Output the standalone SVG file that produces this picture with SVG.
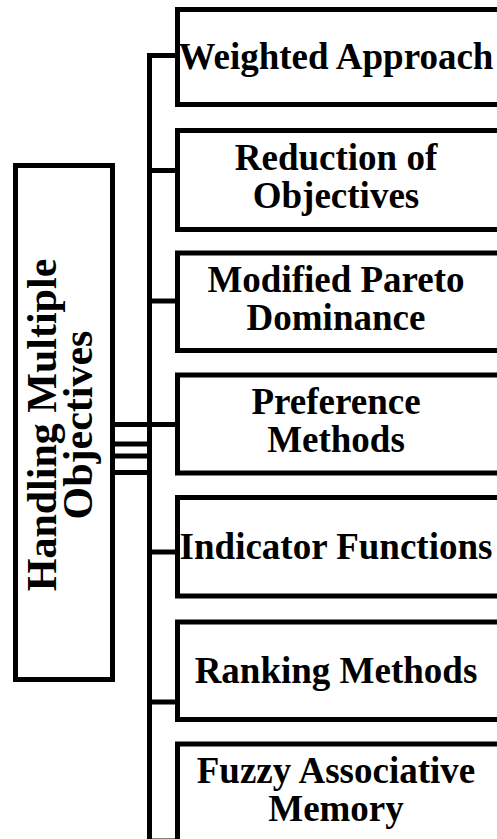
<svg xmlns="http://www.w3.org/2000/svg" width="497" height="839" viewBox="0 0 497 839">
<style>
.box{fill:#fff;stroke:#000;stroke-width:5}
.ln{fill:none;stroke:#000;stroke-width:5;stroke-linejoin:miter}
.t{font-family:"Liberation Serif","Times New Roman",serif;font-weight:bold;font-size:37px;fill:#000;text-anchor:middle}
.r{font-size:42px}
</style>
<rect width="497" height="839" fill="#fff"/>
<g id="connectors">
<path class="ln" d="M178,55.5 H149.5 V845"/>
<path class="ln" d="M149.5,170.5 H178"/>
<path class="ln" d="M149.5,301 H178"/>
<path class="ln" d="M112,424.5 H178"/>
<path class="ln" d="M149.5,552 H178"/>
<path class="ln" d="M149.5,702 H178"/>
<path class="ln" d="M149.5,841 H178"/>
<path class="ln" d="M112,444 H149.5"/>
<path class="ln" d="M112,456 H149.5"/>
<path class="ln" d="M112,472.5 H149.5"/>
</g>
<g id="root">
<rect class="box" x="15.5" y="165.5" width="97" height="514"/>
<text class="t r" transform="translate(56,425) rotate(-90)">Handling Multiple</text>
<text class="t r" transform="translate(92,425) rotate(-90)">Objectives</text>
</g>
<g id="n1"><rect class="box" x="177.5" y="9.5" width="330" height="95"/><text class="t" x="336" y="69">Weighted Approach</text></g>
<g id="n2"><rect class="box" x="177.5" y="130.5" width="330" height="99"/><text class="t" x="336" y="170">Reduction of</text><text class="t" x="336" y="208">Objectives</text></g>
<g id="n3"><rect class="box" x="177.5" y="253" width="330" height="97.5"/><text class="t" x="336" y="292">Modified Pareto</text><text class="t" x="336" y="330">Dominance</text></g>
<g id="n4"><rect class="box" x="177.5" y="375" width="330" height="98"/><text class="t" x="336" y="414">Preference</text><text class="t" x="336" y="452">Methods</text></g>
<g id="n5"><rect class="box" x="177.5" y="497.5" width="330" height="98.5"/><text class="t" x="336" y="559">Indicator Functions</text></g>
<g id="n6"><rect class="box" x="177.5" y="622" width="330" height="97.5"/><text class="t" x="336" y="683">Ranking Methods</text></g>
<g id="n7"><rect class="box" x="177.5" y="744" width="330" height="98"/><text class="t" x="336" y="783">Fuzzy Associative</text><text class="t" x="336" y="821">Memory</text></g>
</svg>
